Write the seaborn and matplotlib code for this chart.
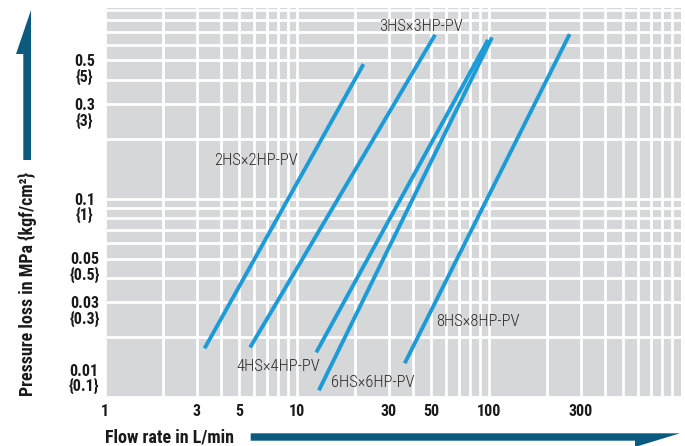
import pandas as pd
import seaborn as sns
import matplotlib.pyplot as plt
import matplotlib.transforms as mtransforms
from matplotlib.patches import Polygon

# values (flow in L/min, pressure loss in MPa)
models = ["2HS×2HP-PV", "3HS×3HP-PV", "4HS×4HP-PV", "6HS×6HP-PV", "8HS×8HP-PV"]
flow_start = [3.3, 5.7, 12.6, 13.0, 36.4]
flow_end = [22.2, 52.4, 98.8, 103.7, 263]
loss_start = [0.0176, 0.0178, 0.0168, 0.0108, 0.0148]
loss_end = [0.479, 0.674, 0.635, 0.654, 0.679]

x_ticks = [1, 3, 5, 10, 30, 50, 100, 300]
y_ticks = [0.01, 0.03, 0.05, 0.1, 0.3, 0.5]
y_ticks_kgf = ["{0.1}", "{0.3}", "{0.5}", "{1}", "{3}", "{5}"]

# where the model names sit
label_flow = [6.13, 44.5, 7.98, 24.9, 87.7]
label_loss = [0.157, 0.74, 0.0142, 0.0118, 0.024]

df = pd.DataFrame({"model": models * 2,
                   "flow": flow_start + flow_end,
                   "loss": loss_start + loss_end})

BLUE = "#1b9bd7"
DARK = "#0b5b80"
COND = ["Roboto Condensed", "DejaVu Sans"]

sns.set_theme(style="darkgrid", rc={"axes.facecolor": "#d5d7d8",
                                     "grid.color": "white",
                                     "figure.facecolor": "white"})
plt.rcParams["font.family"] = COND

fig = plt.figure(figsize=(6.85, 4.46), dpi=100)
ax = fig.add_axes([105 / 685, 49 / 446, 576 / 685, 389 / 446])
ax.set_xscale("log")
ax.set_yscale("log")

sns.lineplot(data=df, x="flow", y="loss", hue="model",
             palette=[BLUE] * len(models), legend=False, estimator=None,
             linewidth=2.8, solid_capstyle="butt", ax=ax)

ax.set_xlim(1, 1000)
ax.set_ylim(0.01, 0.92)
ax.grid(which="both", color="white", linewidth=2.0)
for s in ax.spines.values():
    s.set_visible(False)

ax.set_xticks(x_ticks, labels=[str(t) for t in x_ticks])
ax.set_yticks(y_ticks, labels=[""] * len(y_ticks))
ax.tick_params(which="both", length=0)
ax.tick_params(axis="x", pad=5, labelsize=11.5, labelcolor="#1a1a1a")
for lab in ax.get_xticklabels():
    lab.set_fontweight("bold")
ax.set_xlabel("")
ax.set_ylabel("")

# y tick labels in two rows: MPa over {kgf/cm2}
blend = mtransforms.blended_transform_factory(ax.transAxes, ax.transData)
for v, kgf in zip(y_ticks, y_ticks_kgf):
    dy = 18 if v == min(y_ticks) else -9
    tr = blend + mtransforms.ScaledTranslation(0, dy / 100, fig.dpi_scale_trans)
    ax.text(-0.036, v, f"{v:g}\n{kgf}", transform=tr, ha="center", va="center",
            fontsize=11.5, fontweight="bold", color="#1a1a1a", linespacing=0.95,
            clip_on=False)

for name, fx, fy in zip(models, label_flow, label_loss):
    ax.text(fx, fy, name, ha="center", va="center", fontsize=12,
            fontweight="light", color="#2e2828")

fig.text(105 / 685, 1 - 437 / 446, "Flow rate in L/min", ha="left", va="center",
         fontsize=13, fontweight="bold", color="#1a1a1a")
fig.text(27.5 / 685, 1 - 284 / 446, "Pressure loss in MPa {kgf/cm²}", rotation=90,
         ha="center", va="center", fontsize=13, fontweight="bold", color="#1a1a1a")


def fig_poly(pts):
    return Polygon([(x / 685, 1 - y / 446) for x, y in pts], closed=True,
                   transform=fig.transFigure, facecolor=DARK, edgecolor="none")


# big arrows next to the axis titles
fig.add_artist(fig_poly([(23.3, 160), (31, 160), (31, 10), (16, 54), (23.3, 54)]))
fig.add_artist(fig_poly([(250.7, 433.3), (680, 433.3), (635, 447), (635, 440.7),
                         (250.7, 440.7)]))

fig.savefig("out.png", dpi=100)
